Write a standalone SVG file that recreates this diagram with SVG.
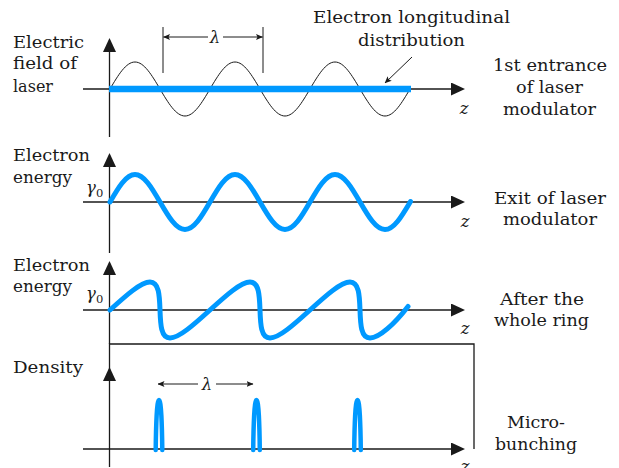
<svg xmlns="http://www.w3.org/2000/svg" width="619" height="468" viewBox="0 0 619 468">
<style>
.t{font-family:'DejaVu Serif','Liberation Serif','Times New Roman',serif;font-size:16.5px;fill:#1a1a1a}
.m{text-anchor:middle}
.i{font-style:italic}
.ax{stroke:#1a1a1a;stroke-width:1.3;fill:none}
.thin{stroke:#1a1a1a;stroke-width:1;fill:none}
.blue{stroke:#0099ff;fill:none;stroke-linecap:round;stroke-linejoin:round}
</style>
<defs>
<marker id="big" viewBox="0 0 14 13" refX="12" refY="6.5" markerWidth="14" markerHeight="13" markerUnits="userSpaceOnUse" orient="auto">
<path d="M0,0 L14,6.5 L0,13 z" fill="#1a1a1a"/>
</marker>
<marker id="small" viewBox="0 0 7 6" refX="6.5" refY="3" markerWidth="7" markerHeight="6" markerUnits="userSpaceOnUse" orient="auto">
<path d="M0,0 L7,3 L0,6 L1.5,3 z" fill="#1a1a1a"/>
</marker>
<path id="spike" d="M-3.3,450 C-3,425 -2.2,400 0,400 C2.2,400 3,425 3.3,450"/>
</defs>

<g id="connectors">
<path class="ax" d="M83,89 L463,89" marker-end="url(#big)"/>
<path class="ax" d="M109.5,137 L109.5,40" marker-end="url(#big)"/>
<path class="ax" d="M83,202 L463,202" marker-end="url(#big)"/>
<path class="ax" d="M109.5,253 L109.5,155" marker-end="url(#big)"/>
<path class="ax" d="M83,310 L463,310" marker-end="url(#big)"/>
<path class="ax" d="M109.5,344 L109.5,263" marker-end="url(#big)"/>
<path class="ax" d="M109.5,467 L109.5,344 L474,344 L474,449"/>
<path class="ax" d="M109.5,380 L109.5,369" marker-end="url(#big)"/>
<path class="ax" d="M83,449 L463,449" marker-end="url(#big)"/>
<path class="thin" d="M163,27 L163,73 M263,27 L263,73"/>
<path class="thin" d="M208,37 L163.5,37" marker-end="url(#small)"/>
<path class="thin" d="M223,37 L262.5,37" marker-end="url(#small)"/>
<path class="thin" d="M198,384 L158,384" marker-end="url(#small)"/>
<path class="thin" d="M216,384 L253,384" marker-end="url(#small)"/>
<path class="thin" d="M412,57 L385,83" marker-end="url(#small)"/>
</g>

<g id="panel1">
<text class="t" x="13" y="48" textLength="71" lengthAdjust="spacingAndGlyphs">Electric</text>
<text class="t" x="13" y="69" textLength="64" lengthAdjust="spacingAndGlyphs">field of</text>
<text class="t" x="13" y="91.5" textLength="40" lengthAdjust="spacingAndGlyphs">laser</text>
<path class="thin" d="M110,89 C118.15,75.17 125.95,62 135,62 S151.85,75.17 160,89 S175.95,116 185,116 S201.85,102.83 210,89 S225.95,62 235,62 S251.85,75.17 260,89 S275.95,116 285,116 S301.85,102.83 310,89 S325.95,62 335,62 S351.85,75.17 360,89 S375.95,116 385,116 S401.85,102.83 410,89"/>
<path d="M109,89 L411,89" stroke="#0099ff" stroke-width="6.5" fill="none"/>
<text class="t m" x="411.5" y="23" textLength="197" lengthAdjust="spacingAndGlyphs">Electron longitudinal</text>
<text class="t m" x="411.5" y="46" textLength="107" lengthAdjust="spacingAndGlyphs">distribution</text>
<text class="t m" x="550" y="71" textLength="114" lengthAdjust="spacingAndGlyphs">1st entrance</text>
<text class="t m" x="549.5" y="93" textLength="67" lengthAdjust="spacingAndGlyphs">of laser</text>
<text class="t m" x="549.5" y="115" textLength="93" lengthAdjust="spacingAndGlyphs">modulator</text>
<text class="t m i" x="464" y="114">z</text>
<text class="t m i" x="215" y="42.5">λ</text>
</g>

<g id="panel2">
<text class="t" x="13" y="161" textLength="77" lengthAdjust="spacingAndGlyphs">Electron</text>
<text class="t" x="13" y="183" textLength="59" lengthAdjust="spacingAndGlyphs">energy</text>
<text class="t i" x="86" y="193">γ<tspan font-style="normal" font-size="11.5" dy="4">0</tspan></text>
<path class="blue" stroke-width="5" d="M110,202 C118.15,187.91 125.95,174.5 135,174.5 S151.850,187.91 160,202 S175.95,229.5 185,229.5 S201.85,216.09 210,202 S225.95,174.5 235,174.5 S251.85,187.91 260,202 S275.95,229.5 285,229.5 S301.85,216.09 310,202 S325.95,174.5 335,174.5 S351.85,187.91 360,202 S375.95,229.5 385,229.5 S401.85,216.09 410.5,201.5"/>
<text class="t m" x="550" y="204" textLength="112" lengthAdjust="spacingAndGlyphs">Exit of laser</text>
<text class="t m" x="550" y="225" textLength="94" lengthAdjust="spacingAndGlyphs">modulator</text>
<text class="t m i" x="465" y="227">z</text>
</g>

<g id="panel3">
<text class="t" x="13" y="271" textLength="77" lengthAdjust="spacingAndGlyphs">Electron</text>
<text class="t" x="13" y="292" textLength="59" lengthAdjust="spacingAndGlyphs">energy</text>
<text class="t i" x="86" y="299">γ<tspan font-style="normal" font-size="11.5" dy="4">0</tspan></text>
<path class="blue" stroke-width="5" d="M110,310 C125.83,295.66 140.95,282 150,282 S159.53,295.66 160,310 S160.95,338 170,338 S194.17,324.34 210,310 S240.95,282 250,282 S259.53,295.66 260,310 S260.95,338 270,338 S294.17,324.34 310,310 S340.95,282 350,282 S359.53,295.66 360,310 S360.95,338 370,338 S394.17,324.34 408,306.5"/>
<text class="t m" x="542" y="305" textLength="84" lengthAdjust="spacingAndGlyphs">After the</text>
<text class="t m" x="541.5" y="326" textLength="95" lengthAdjust="spacingAndGlyphs">whole ring</text>
<text class="t m i" x="465" y="334">z</text>
</g>

<g id="panel4">
<text class="t" x="13" y="373" textLength="70" lengthAdjust="spacingAndGlyphs">Density</text>
<g class="blue" stroke-width="4.5">
<use href="#spike" transform="translate(159,0)"/>
<use href="#spike" transform="translate(256.5,0)"/>
<use href="#spike" transform="translate(357.5,0)"/>
</g>
<text class="t m i" x="207" y="389.5">λ</text>
<text class="t m" x="536" y="428" textLength="58" lengthAdjust="spacingAndGlyphs">Micro-</text>
<text class="t m" x="536" y="450" textLength="82" lengthAdjust="spacingAndGlyphs">bunching</text>
<text class="t m i" x="465" y="472">z</text>
</g>
</svg>
